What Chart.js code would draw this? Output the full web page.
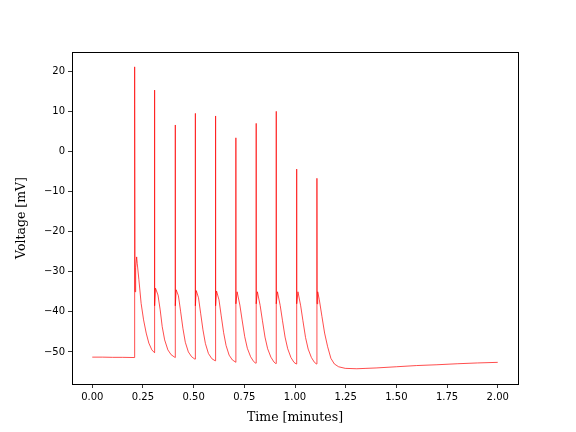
<!DOCTYPE html>
<html>
<head>
<meta charset="utf-8">
<script src="https://cdn.jsdelivr.net/npm/chart.js@4"></script>
<style>
  html, body { margin: 0; padding: 0; background: #fff; }
  #wrap { width: 576px; height: 432px; }
</style>
</head>
<body>
<div id="wrap"><canvas id="trace"></canvas></div>
<script>
// membrane voltage trace
// time in minutes, voltage in mV
const restTime = [0, 0.05, 0.10, 0.15, 0.2075];
const restVolt = [-51.3, -51.3, -51.35, -51.35, -51.4];

// first burst (three spikes close together) and its recovery
const burstTime = [0.208, 0.2083, 0.2088, 0.2093, 0.2098, 0.2103, 0.2108, 0.214, 0.219, 0.222, 0.230, 0.241, 0.253, 0.266, 0.279, 0.294];
const burstVolt = [-51.4, 21.1, -34.0, 14.3, -33.5, 11.6, -35.0, -29.0, -26.3, -28.0, -32.0, -37.9, -42.0, -45.3, -47.8, -49.5];

// single spikes 2..9 with their decays
const trainTime = [
  0.307, 0.3073, 0.3078, 0.312, 0.324, 0.335, 0.345, 0.357, 0.373, 0.389, 0.406,
  0.409, 0.4093, 0.4098, 0.414, 0.425, 0.436, 0.447, 0.459, 0.474, 0.490, 0.506,
  0.508, 0.5083, 0.5088, 0.513, 0.524, 0.535, 0.546, 0.558, 0.573, 0.590, 0.606,
  0.608, 0.6083, 0.6088, 0.613, 0.625, 0.636, 0.648, 0.660, 0.675, 0.691, 0.706,
  0.708, 0.7083, 0.7088, 0.7145, 0.728, 0.739, 0.752, 0.765, 0.781, 0.796, 0.806,
  0.808, 0.8083, 0.8088, 0.8145, 0.828, 0.839, 0.852, 0.865, 0.881, 0.896, 0.905,
  0.907, 0.9073, 0.9078, 0.9135, 0.927, 0.938, 0.951, 0.964, 0.980, 0.995, 1.006,
  1.008, 1.0083, 1.0088, 1.0145, 1.028, 1.039, 1.052, 1.065, 1.081, 1.096, 1.106
];
const trainVolt = [
  -50.2, 15.3, -38.5, -34.1, -35.8, -39.5, -43.7, -47.0, -49.5, -50.7, -51.3,
  -51.4, 6.6, -38.5, -34.5, -36.0, -40.0, -44.1, -47.6, -50.0, -51.2, -51.8,
  -51.8, 9.5, -38.5, -34.7, -36.5, -40.5, -44.5, -47.9, -50.4, -51.7, -52.2,
  -52.2, 8.85, -38.5, -34.8, -37.0, -41.0, -45.2, -48.4, -50.8, -52.0, -52.5,
  -52.6, 3.4, -38.0, -35.0, -38.3, -42.0, -46.2, -49.1, -51.2, -52.4, -52.8,
  -52.8, 7.0, -38.0, -35.0, -38.4, -42.1, -46.3, -49.2, -51.3, -52.5, -52.9,
  -52.9, 10.0, -38.0, -35.0, -38.4, -42.1, -46.3, -49.2, -51.4, -52.6, -53.0,
  -53.0, -4.4, -38.0, -35.0, -38.5, -42.2, -46.4, -49.3, -51.4, -52.6, -53.0
];

// last spike, after-hyperpolarisation and slow return
const tailTime = [1.108, 1.1083, 1.1088, 1.112, 1.120, 1.133, 1.146, 1.161, 1.177, 1.194, 1.215, 1.248, 1.305, 1.35, 1.40, 1.50, 1.60, 1.70, 1.80, 1.90, 2.00];
const tailVolt = [-53.0, -6.7, -38.0, -35.0, -37.0, -41.2, -45.3, -48.7, -51.6, -53.0, -53.7, -54.1, -54.2, -54.1, -54.0, -53.7, -53.4, -53.2, -52.95, -52.75, -52.6];

const xTicks = [0, 0.25, 0.5, 0.75, 1.0, 1.25, 1.5, 1.75, 2.0];
const yTicks = [-50, -40, -30, -20, -10, 0, 10, 20];

const allTime = restTime.concat(burstTime, trainTime, tailTime);
const allVolt = restVolt.concat(burstVolt, trainVolt, tailVolt);
const points = allTime.map((t, i) => ({ x: t, y: allVolt[i] }));

// matplotlib style closed frame around the plot area
const frameBox = {
  id: 'frameBox',
  afterDatasetsDraw(chart) {
    const { ctx, chartArea: a } = chart;
    ctx.save();
    ctx.strokeStyle = '#000';
    ctx.lineWidth = 1;
    ctx.strokeRect(Math.round(a.left) + 0.5, Math.round(a.top) + 0.5,
      Math.round(a.right - a.left), Math.round(a.bottom - a.top));
    ctx.restore();
  }
};

const tickFont = { family: '"DejaVu Sans"', size: 10 };
const titleFont = { family: '"DejaVu Serif"', size: 12.5 };
const minus = v => String(v).replace('-', '\u2212');

new Chart(document.getElementById('trace'), {
  type: 'line',
  data: {
    datasets: [{
      data: points,
      borderColor: '#ff0000',
      borderWidth: 0.7,
      pointRadius: 0,
      tension: 0,
      fill: false
    }]
  },
  options: {
    responsive: true,
    maintainAspectRatio: false,
    animation: false,
    events: [],
    layout: { padding: { top: 52, right: 58, left: 0, bottom: 0 } },
    plugins: { legend: { display: false }, tooltip: { enabled: false } },
    scales: {
      x: {
        type: 'linear',
        min: -0.1,
        max: 2.1,
        afterBuildTicks: s => { s.ticks = xTicks.map(v => ({ value: v })); },
        afterFit: s => { s.height = 48; },
        border: { display: false },
        grid: { drawOnChartArea: false, drawTicks: true, tickLength: 4, color: '#000', lineWidth: 0.8 },
        ticks: { font: tickFont, color: '#000', padding: 3, maxRotation: 0, callback: v => v.toFixed(2) },
        title: { display: true, text: 'Time [minutes]', font: titleFont, color: '#000', padding: { top: 0, bottom: 6.5 } }
      },
      y: {
        min: -58,
        max: 24.8,
        afterBuildTicks: s => { s.ticks = yTicks.map(v => ({ value: v })); },
        afterFit: s => { s.width = 72; },
        border: { display: false },
        grid: { drawOnChartArea: false, drawTicks: true, tickLength: 4, color: '#000', lineWidth: 0.8 },
        ticks: { font: tickFont, color: '#000', padding: 3, callback: v => minus(v) },
        title: { display: true, text: 'Voltage [mV]', font: titleFont, color: '#000', padding: { top: 14.5, bottom: 0 } }
      }
    }
  },
  plugins: [frameBox]
});
</script>
</body>
</html>
